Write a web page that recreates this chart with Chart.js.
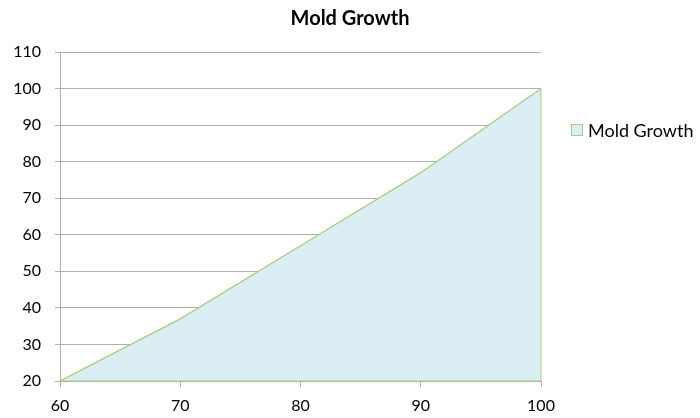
<!DOCTYPE html>
<html>
<head>
<meta charset="utf-8">
<script src="https://cdn.jsdelivr.net/npm/chart.js@4.4.1/dist/chart.umd.min.js"></script>
<style>
  html, body { margin: 0; padding: 0; background: #fff; }
</style>
</head>
<body>
<canvas id="moldChart" width="700" height="418"></canvas>
<script>
// Data
const temperatures = [60, 70, 80, 90, 100];
const moldGrowth = [20, 37, 57, 77, 100];
const seriesName = "Mold Growth";
const chartTitle = "Mold Growth";

// Colours
const fillBlue = "#dbeef4";
const lineGreen = "#a9ca7f";
const gridGrey = "#b0b0b0";

// Closes the area outline (right edge and base) like the original
const areaOutline = {
  id: "areaOutline",
  afterDatasetsDraw(chart) {
    const xs = chart.scales.x;
    const ys = chart.scales.y;
    const ctx = chart.ctx;
    const last = temperatures.length - 1;
    const rightX = xs.getPixelForValue(temperatures[last]);
    const leftX = xs.getPixelForValue(temperatures[0]);
    const topY = ys.getPixelForValue(moldGrowth[last]);
    const baseY = ys.getPixelForValue(ys.min);
    ctx.save();
    ctx.strokeStyle = lineGreen;
    ctx.lineWidth = 1;
    ctx.beginPath();
    ctx.moveTo(rightX, topY);
    ctx.lineTo(rightX, baseY);
    ctx.lineTo(leftX, baseY);
    ctx.stroke();
    ctx.restore();
  }
};

// Title centred on the whole canvas, legend to the right a bit above middle
const titleAndLegend = {
  id: "titleAndLegend",
  afterDraw(chart) {
    const ctx = chart.ctx;
    const ds = chart.data.datasets[0];
    ctx.save();
    ctx.fillStyle = "#000";
    ctx.font = "bold 20px Lato";
    ctx.textAlign = "center";
    ctx.textBaseline = "middle";
    ctx.fillText(chartTitle, chart.width / 2, 19);

    const bx = chart.chartArea.right + 30;
    const cy = chart.chartArea.top + 78;
    ctx.fillStyle = ds.backgroundColor;
    ctx.fillRect(bx, cy - 6, 12, 12);
    ctx.strokeStyle = ds.borderColor;
    ctx.lineWidth = 1;
    ctx.strokeRect(bx + 0.5, cy - 5.5, 11, 11);
    ctx.font = "18px Lato";
    ctx.fillStyle = "#000";
    ctx.textAlign = "left";
    ctx.fillText(ds.label, bx + 17, cy + 1);
    ctx.restore();
  }
};

new Chart(document.getElementById("moldChart"), {
  type: "line",
  data: {
    datasets: [
      {
        label: seriesName,
        data: temperatures.map((t, i) => ({ x: t, y: moldGrowth[i] })),
        borderColor: lineGreen,
        backgroundColor: fillBlue,
        borderWidth: 1.2,
        fill: "start",
        tension: 0,
        pointRadius: 0,
      },
    ],
  },
  options: {
    responsive: false,
    animation: false,
    layout: { padding: { left: 0, right: 159, top: 52, bottom: 0 } },
    plugins: {
      legend: { display: false },
      tooltip: { enabled: false },
      title: { display: false },
    },
    scales: {
      x: {
        type: "linear",
        min: 60,
        max: 100,
        ticks: {
          stepSize: 10,
          color: "#000",
          font: { family: "Lato", size: 16 },
          padding: 9,
        },
        grid: { drawOnChartArea: false, drawTicks: true, tickLength: 6, color: gridGrey },
        border: { color: gridGrey },
        afterFit(scale) { scale.height = 37; },
      },
      y: {
        min: 20,
        max: 110,
        ticks: {
          stepSize: 10,
          color: "#000",
          font: { family: "Lato", size: 16 },
          padding: 14,
        },
        grid: { color: gridGrey, tickLength: 5 },
        border: { color: gridGrey },
        afterFit(scale) { scale.width = 60; },
      },
    },
  },
  plugins: [areaOutline, titleAndLegend],
});
</script>
</body>
</html>
